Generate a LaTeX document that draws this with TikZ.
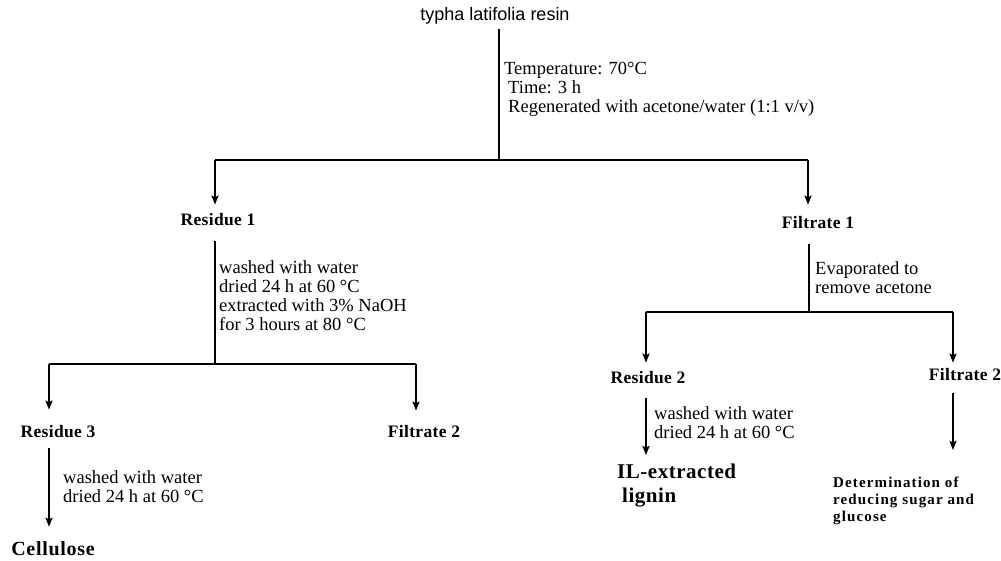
\documentclass[tikz,border=0pt]{standalone}
\usepackage{fontspec}
\setmainfont{Liberation Serif}
\newfontfamily\arialfont{Liberation Sans}
\usetikzlibrary{arrows.meta}

\begin{document}
\begin{tikzpicture}[x=1pt, y=-1pt,
    line/.style={line width=2pt},
    flow/.style={line width=2pt, -{Stealth[length=9pt, width=7pt, inset=1.5pt]}},
    lbl/.style={inner sep=0pt, font=\fontsize{17.5}{19}\selectfont\bfseries\addfontfeature{LetterSpace=2}},
    cond/.style={inner sep=0pt, anchor=west, align=left, font=\fontsize{18.5}{19}\selectfont}]
    \useasboundingbox (0,0) rectangle (1001,561);

    % raw material and first split
    \node[inner sep=0pt, font=\arialfont\fontsize{18}{20}\selectfont] (resin) at (495,16) {typha latifolia resin};
    \coordinate (j1) at (499,160);
    \coordinate (j1w) at (215,160);
    \coordinate (j1e) at (808,160);
    \node[cond] (cond1) at (504,89) {Temperature: 70°C\\\hspace{4pt}Time: 3 h\\\hspace{4pt}Regenerated with acetone/water (1:1 v/v)};

    \node[lbl] (res1) at (218,220) {Residue 1};
    \node[lbl] (fil1) at (818,223) {Filtrate 1};

    \draw[line, shorten <=4pt] (resin.south -| j1) -- (j1);
    \draw[line] (j1w) -- (j1e);
    \draw[flow, shorten >=9pt] (j1w) -- (j1w |- res1.north);
    \draw[flow, shorten >=12pt] (j1e) -- (j1e |- fil1.north);

    % residue 1 branch
    \coordinate (j2) at (215,364);
    \coordinate (j2w) at (49,364);
    \coordinate (j2e) at (416,364);
    \node[cond] (cond2) at (219,296) {washed with water\\dried 24 h at 60 °C\\extracted with 3\% NaOH\\for 3 hours at 80 °C};

    \node[lbl] (res3) at (58,432) {Residue 3};
    \node[lbl] (fil2a) at (424,432) {Filtrate 2};
    \node[inner sep=0pt, font=\fontsize{20}{22}\selectfont\bfseries\addfontfeature{LetterSpace=3.5}] (cell) at (53,549) {Cellulose};
    \node[cond] (cond3) at (63,487) {washed with water\\dried 24 h at 60 °C};

    \draw[line, shorten <=15pt] (res1.south -| j2) -- (j2);
    \draw[line] (j2w) -- (j2e);
    \draw[flow, shorten >=16pt] (j2w) -- (j2w |- res3.north);
    \draw[flow, shorten >=15pt] (j2e) -- (j2e |- fil2a.north);
    \draw[flow, shorten <=10pt, shorten >=15pt] (res3.south -| j2w) -- (j2w |- cell.north);

    % filtrate 1 branch
    \coordinate (j3) at (809,312);
    \coordinate (j3w) at (646,312);
    \coordinate (j3e) at (953,312);
    \node[cond] (cond4) at (815,278) {Evaporated to\\remove acetone};

    \node[lbl] (res2) at (648,378) {Residue 2};
    \node[lbl] (fil2b) at (965,375) {Filtrate 2};
    \node[cond] (cond5) at (654,423) {washed with water\\dried 24 h at 60 °C};
    \node[inner sep=0pt, anchor=north west, align=left,
        font=\fontsize{21}{24}\selectfont\bfseries\addfontfeature{LetterSpace=2.5}] (lignin) at (617,464) {IL-extracted\\\hspace{5pt}lignin};
    \node[inner sep=0pt, anchor=north west, align=left,
        font=\fontsize{15}{17}\selectfont\bfseries\addfontfeature{LetterSpace=7.5}] (det) at (833,477) {Determination of\\reducing sugar and\\glucose};

    \draw[line, shorten <=15pt] (fil1.south -| j3) -- (j3);
    \draw[line] (j3w) -- (j3e);
    \draw[flow, shorten >=9pt] (j3w) -- (j3w |- res2.north);
    \draw[flow, shorten >=6pt] (j3e) -- (j3e |- fil2b.north);
    \draw[flow, shorten <=14pt, shorten >=9pt] (res2.south -| j3w) -- (j3w |- lignin.north);
    \draw[flow, shorten <=12pt, shorten >=27pt] (fil2b.south -| j3e) -- (j3e |- det.north);
\end{tikzpicture}
\end{document}
